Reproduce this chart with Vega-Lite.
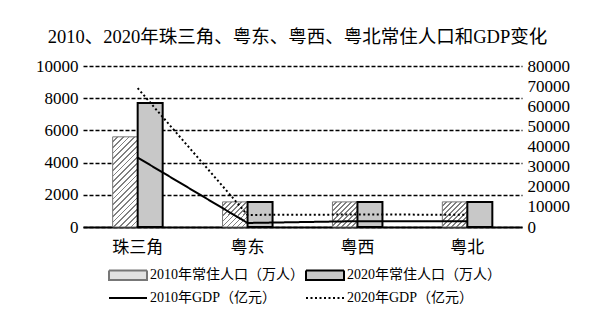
{
  "$schema": "https://vega.github.io/schema/vega-lite/v6.json",
  "autosize": "none",
  "width": 439,
  "height": 161,
  "padding": {"left": 83, "top": 66, "right": 68, "bottom": 100},
  "background": "white",
  "title": {
    "text": "2010、2020年珠三角、粤东、粤西、粤北常住人口和GDP变化",
    "font": "Liberation Serif, Noto Sans CJK SC",
    "fontSize": 18.5,
    "fontWeight": "normal",
    "color": "#000000",
    "offset": 11,
    "dx": -5
  },
  "config": {
    "view": {"stroke": null},
    "font": "Liberation Serif, Noto Sans CJK SC",
    "axis": {"labelFont": "Liberation Serif, Noto Sans CJK SC", "labelColor": "#000000", "labelFontSize": 17}
  },
  "datasets": {
    "pop": [
      {"region": "珠三角", "series": "2010年常住人口（万人）", "value": 5600},
      {"region": "珠三角", "series": "2020年常住人口（万人）", "value": 7700},
      {"region": "粤东", "series": "2010年常住人口（万人）", "value": 1560},
      {"region": "粤东", "series": "2020年常住人口（万人）", "value": 1550},
      {"region": "粤西", "series": "2010年常住人口（万人）", "value": 1560},
      {"region": "粤西", "series": "2020年常住人口（万人）", "value": 1560},
      {"region": "粤北", "series": "2010年常住人口（万人）", "value": 1560},
      {"region": "粤北", "series": "2020年常住人口（万人）", "value": 1560}
    ],
    "gdp": [
      {"region": "珠三角", "series": "2010年GDP（亿元）", "value": 34500},
      {"region": "粤东", "series": "2010年GDP（亿元）", "value": 2000},
      {"region": "粤西", "series": "2010年GDP（亿元）", "value": 2900},
      {"region": "粤北", "series": "2010年GDP（亿元）", "value": 2900},
      {"region": "珠三角", "series": "2020年GDP（亿元）", "value": 69000},
      {"region": "粤东", "series": "2020年GDP（亿元）", "value": 6000},
      {"region": "粤西", "series": "2020年GDP（亿元）", "value": 6200},
      {"region": "粤北", "series": "2020年GDP（亿元）", "value": 6100}
    ]
  },
  "layer": [
    {
      "data": {"name": "pop"},
      "encoding": {
        "x": {
          "field": "region", "type": "nominal",
          "sort": ["珠三角", "粤东", "粤西", "粤北"],
          "scale": {"paddingInner": 0.545, "paddingOuter": 0.27},
          "axis": {"title": null, "labelAngle": 0, "ticks": false, "domainColor": "#000000", "domainWidth": 2, "labelPadding": 12, "labelFontSize": 17, "labelFont": "Liberation Serif, Noto Sans CJK SC"}
        },
        "xOffset": {
          "field": "series", "type": "nominal",
          "scale": {"domain": ["2010年常住人口（万人）", "2020年常住人口（万人）"], "paddingInner": 0, "paddingOuter": 0}
        },
        "y": {
          "field": "value", "type": "quantitative",
          "scale": {"domain": [0, 10000], "nice": false},
          "axis": {"title": null, "orient": "left", "format": "d", "labelFont": "Liberation Serif", "values": [0, 2000, 4000, 6000, 8000, 10000], "domain": false, "ticks": false, "tickSize": 0, "labelPadding": 5, "grid": true, "gridColor": "#000000", "gridDash": [4, 2], "gridWidth": 1.5, "gridOpacity": 1}
        }
      },
      "layer": [
        {
          "transform": [{"filter": "datum.series === '2010年常住人口（万人）' && datum.region === '珠三角'"}],
          "mark": {
            "type": "bar", "stroke": "#777777", "strokeWidth": 1,
            "fill": {
              "gradient": "linear", "x1": 0, "y1": 0, "x2": 0.3295, "y2": 1.186,
              "stops": [
                {"offset": 0, "color": "#ffffff"}, {"offset": 0.035, "color": "#ffffff"}, {"offset": 0.035, "color": "#808080"}, {"offset": 0.05, "color": "#808080"},
                {"offset": 0.05, "color": "#ffffff"}, {"offset": 0.085, "color": "#ffffff"}, {"offset": 0.085, "color": "#808080"}, {"offset": 0.1, "color": "#808080"},
                {"offset": 0.1, "color": "#ffffff"}, {"offset": 0.135, "color": "#ffffff"}, {"offset": 0.135, "color": "#808080"}, {"offset": 0.15, "color": "#808080"},
                {"offset": 0.15, "color": "#ffffff"}, {"offset": 0.185, "color": "#ffffff"}, {"offset": 0.185, "color": "#808080"}, {"offset": 0.2, "color": "#808080"},
                {"offset": 0.2, "color": "#ffffff"}, {"offset": 0.235, "color": "#ffffff"}, {"offset": 0.235, "color": "#808080"}, {"offset": 0.25, "color": "#808080"},
                {"offset": 0.25, "color": "#ffffff"}, {"offset": 0.285, "color": "#ffffff"}, {"offset": 0.285, "color": "#808080"}, {"offset": 0.3, "color": "#808080"},
                {"offset": 0.3, "color": "#ffffff"}, {"offset": 0.335, "color": "#ffffff"}, {"offset": 0.335, "color": "#808080"}, {"offset": 0.35, "color": "#808080"},
                {"offset": 0.35, "color": "#ffffff"}, {"offset": 0.385, "color": "#ffffff"}, {"offset": 0.385, "color": "#808080"}, {"offset": 0.4, "color": "#808080"},
                {"offset": 0.4, "color": "#ffffff"}, {"offset": 0.435, "color": "#ffffff"}, {"offset": 0.435, "color": "#808080"}, {"offset": 0.45, "color": "#808080"},
                {"offset": 0.45, "color": "#ffffff"}, {"offset": 0.485, "color": "#ffffff"}, {"offset": 0.485, "color": "#808080"}, {"offset": 0.5, "color": "#808080"},
                {"offset": 0.5, "color": "#ffffff"}, {"offset": 0.535, "color": "#ffffff"}, {"offset": 0.535, "color": "#808080"}, {"offset": 0.55, "color": "#808080"},
                {"offset": 0.55, "color": "#ffffff"}, {"offset": 0.585, "color": "#ffffff"}, {"offset": 0.585, "color": "#808080"}, {"offset": 0.6, "color": "#808080"},
                {"offset": 0.6, "color": "#ffffff"}, {"offset": 0.635, "color": "#ffffff"}, {"offset": 0.635, "color": "#808080"}, {"offset": 0.65, "color": "#808080"},
                {"offset": 0.65, "color": "#ffffff"}, {"offset": 0.685, "color": "#ffffff"}, {"offset": 0.685, "color": "#808080"}, {"offset": 0.7, "color": "#808080"},
                {"offset": 0.7, "color": "#ffffff"}, {"offset": 0.735, "color": "#ffffff"}, {"offset": 0.735, "color": "#808080"}, {"offset": 0.75, "color": "#808080"},
                {"offset": 0.75, "color": "#ffffff"}, {"offset": 0.785, "color": "#ffffff"}, {"offset": 0.785, "color": "#808080"}, {"offset": 0.8, "color": "#808080"},
                {"offset": 0.8, "color": "#ffffff"}, {"offset": 0.835, "color": "#ffffff"}, {"offset": 0.835, "color": "#808080"}, {"offset": 0.85, "color": "#808080"},
                {"offset": 0.85, "color": "#ffffff"}, {"offset": 0.885, "color": "#ffffff"}, {"offset": 0.885, "color": "#808080"}, {"offset": 0.9, "color": "#808080"},
                {"offset": 0.9, "color": "#ffffff"}, {"offset": 0.935, "color": "#ffffff"}, {"offset": 0.935, "color": "#808080"}, {"offset": 0.95, "color": "#808080"},
                {"offset": 0.95, "color": "#ffffff"}, {"offset": 0.985, "color": "#ffffff"}, {"offset": 0.985, "color": "#808080"}, {"offset": 1, "color": "#808080"}
              ]
            }
          }
        },
        {
          "transform": [{"filter": "datum.series === '2010年常住人口（万人）' && datum.region !== '珠三角'"}],
          "mark": {
            "type": "bar", "stroke": "#777777", "strokeWidth": 1,
            "fill": {
              "gradient": "linear", "x1": 0, "y1": 0, "x2": 1, "y2": 1,
              "stops": [
                {"offset": 0, "color": "#ffffff"}, {"offset": 0.07, "color": "#ffffff"}, {"offset": 0.07, "color": "#808080"}, {"offset": 0.1, "color": "#808080"},
                {"offset": 0.1, "color": "#ffffff"}, {"offset": 0.17, "color": "#ffffff"}, {"offset": 0.17, "color": "#808080"}, {"offset": 0.2, "color": "#808080"},
                {"offset": 0.2, "color": "#ffffff"}, {"offset": 0.27, "color": "#ffffff"}, {"offset": 0.27, "color": "#808080"}, {"offset": 0.3, "color": "#808080"},
                {"offset": 0.3, "color": "#ffffff"}, {"offset": 0.37, "color": "#ffffff"}, {"offset": 0.37, "color": "#808080"}, {"offset": 0.4, "color": "#808080"},
                {"offset": 0.4, "color": "#ffffff"}, {"offset": 0.47, "color": "#ffffff"}, {"offset": 0.47, "color": "#808080"}, {"offset": 0.5, "color": "#808080"},
                {"offset": 0.5, "color": "#ffffff"}, {"offset": 0.57, "color": "#ffffff"}, {"offset": 0.57, "color": "#808080"}, {"offset": 0.6, "color": "#808080"},
                {"offset": 0.6, "color": "#ffffff"}, {"offset": 0.67, "color": "#ffffff"}, {"offset": 0.67, "color": "#808080"}, {"offset": 0.7, "color": "#808080"},
                {"offset": 0.7, "color": "#ffffff"}, {"offset": 0.77, "color": "#ffffff"}, {"offset": 0.77, "color": "#808080"}, {"offset": 0.8, "color": "#808080"},
                {"offset": 0.8, "color": "#ffffff"}, {"offset": 0.87, "color": "#ffffff"}, {"offset": 0.87, "color": "#808080"}, {"offset": 0.9, "color": "#808080"},
                {"offset": 0.9, "color": "#ffffff"}, {"offset": 0.97, "color": "#ffffff"}, {"offset": 0.97, "color": "#808080"}, {"offset": 1, "color": "#808080"}
              ]
            }
          }
        },
        {
          "transform": [{"filter": "datum.series === '2020年常住人口（万人）'"}],
          "mark": {"type": "bar", "fill": "#c8c8c8", "stroke": "#000000", "strokeWidth": 2}
        },
        {
          "transform": [{"filter": "false"}],
          "mark": {"type": "point", "opacity": 1},
          "encoding": {
            "fill": {
              "field": "series", "type": "nominal",
              "scale": {"domain": ["2010年常住人口（万人）", "2020年常住人口（万人）", "2010年GDP（亿元）", "2020年GDP（亿元）"], "range": ["#e2e2e2", "#c8c8c8", "transparent", "transparent"]},
              "legend": {"title": null, "orient": "none", "legendX": 38, "legendY": 202, "direction": "horizontal", "columns": 2, "padding": 0, "symbolSize": 100, "symbolStrokeWidth": 2, "labelOffset": 15, "columnPadding": -2, "rowPadding": 7, "labelFont": "Liberation Serif, Noto Sans CJK SC", "labelFontSize": 14, "labelColor": "#000000", "labelLimit": 300}
            },
            "stroke": {
              "field": "series", "type": "nominal",
              "scale": {"domain": ["2010年常住人口（万人）", "2020年常住人口（万人）", "2010年GDP（亿元）", "2020年GDP（亿元）"], "range": ["#777777", "#000000", "#000000", "#000000"]},
              "legend": {"title": null, "orient": "none", "legendX": 38, "legendY": 202, "direction": "horizontal", "columns": 2, "padding": 0, "symbolSize": 100, "symbolStrokeWidth": 2, "labelOffset": 15, "columnPadding": -2, "rowPadding": 7, "labelFont": "Liberation Serif, Noto Sans CJK SC", "labelFontSize": 14, "labelColor": "#000000", "labelLimit": 300}
            },
            "shape": {
              "field": "series", "type": "nominal",
              "scale": {"domain": ["2010年常住人口（万人）", "2020年常住人口（万人）", "2010年GDP（亿元）", "2020年GDP（亿元）"], "range": ["M-3.8,-0.95H3.8V0.95H-3.8Z", "M-3.8,-0.95H3.8V0.95H-3.8Z", "M-3.8,0H3.8", "M-3.8,0H3.8"]},
              "legend": {"title": null, "orient": "none", "legendX": 38, "legendY": 202, "direction": "horizontal", "columns": 2, "padding": 0, "symbolSize": 100, "symbolStrokeWidth": 2, "labelOffset": 15, "columnPadding": -2, "rowPadding": 7, "labelFont": "Liberation Serif, Noto Sans CJK SC", "labelFontSize": 14, "labelColor": "#000000", "labelLimit": 300}
            },
            "strokeDash": {
              "field": "series", "type": "nominal",
              "scale": {"domain": ["2010年常住人口（万人）", "2020年常住人口（万人）", "2010年GDP（亿元）", "2020年GDP（亿元）"], "range": [[1, 0], [1, 0], [1, 0], [2, 2.5]]},
              "legend": {"title": null, "orient": "none", "legendX": 38, "legendY": 202, "direction": "horizontal", "columns": 2, "padding": 0, "symbolSize": 100, "symbolStrokeWidth": 2, "labelOffset": 15, "columnPadding": -2, "rowPadding": 7, "labelFont": "Liberation Serif, Noto Sans CJK SC", "labelFontSize": 14, "labelColor": "#000000", "labelLimit": 300}
            }
          }
        }
      ]
    },
    {
      "data": {"name": "gdp"},
      "mark": {"type": "line", "strokeWidth": 2, "color": "#000000"},
      "encoding": {
        "x": {"field": "region", "type": "nominal", "sort": ["珠三角", "粤东", "粤西", "粤北"]},
        "y": {
          "field": "value", "type": "quantitative",
          "scale": {"domain": [0, 80000], "nice": false},
          "axis": {"title": null, "orient": "right", "format": "d", "labelFont": "Liberation Serif", "values": [0, 10000, 20000, 30000, 40000, 50000, 60000, 70000, 80000], "domain": false, "ticks": false, "tickSize": 0, "labelPadding": 5, "grid": false}
        },
        "strokeDash": {
          "field": "series", "type": "nominal",
          "scale": {"domain": ["2010年常住人口（万人）", "2020年常住人口（万人）", "2010年GDP（亿元）", "2020年GDP（亿元）"], "range": [[1, 0], [1, 0], [1, 0], [2, 2.5]]},
          "legend": {"title": null, "orient": "none", "legendX": 38, "legendY": 202, "direction": "horizontal", "columns": 2, "padding": 0, "symbolSize": 100, "symbolStrokeWidth": 2, "labelOffset": 15, "columnPadding": -2, "rowPadding": 7, "labelFont": "Liberation Serif, Noto Sans CJK SC", "labelFontSize": 14, "labelColor": "#000000", "labelLimit": 300}
        }
      }
    }
  ],
  "resolve": {"scale": {"y": "independent"}, "axis": {"y": "independent"}}
}
